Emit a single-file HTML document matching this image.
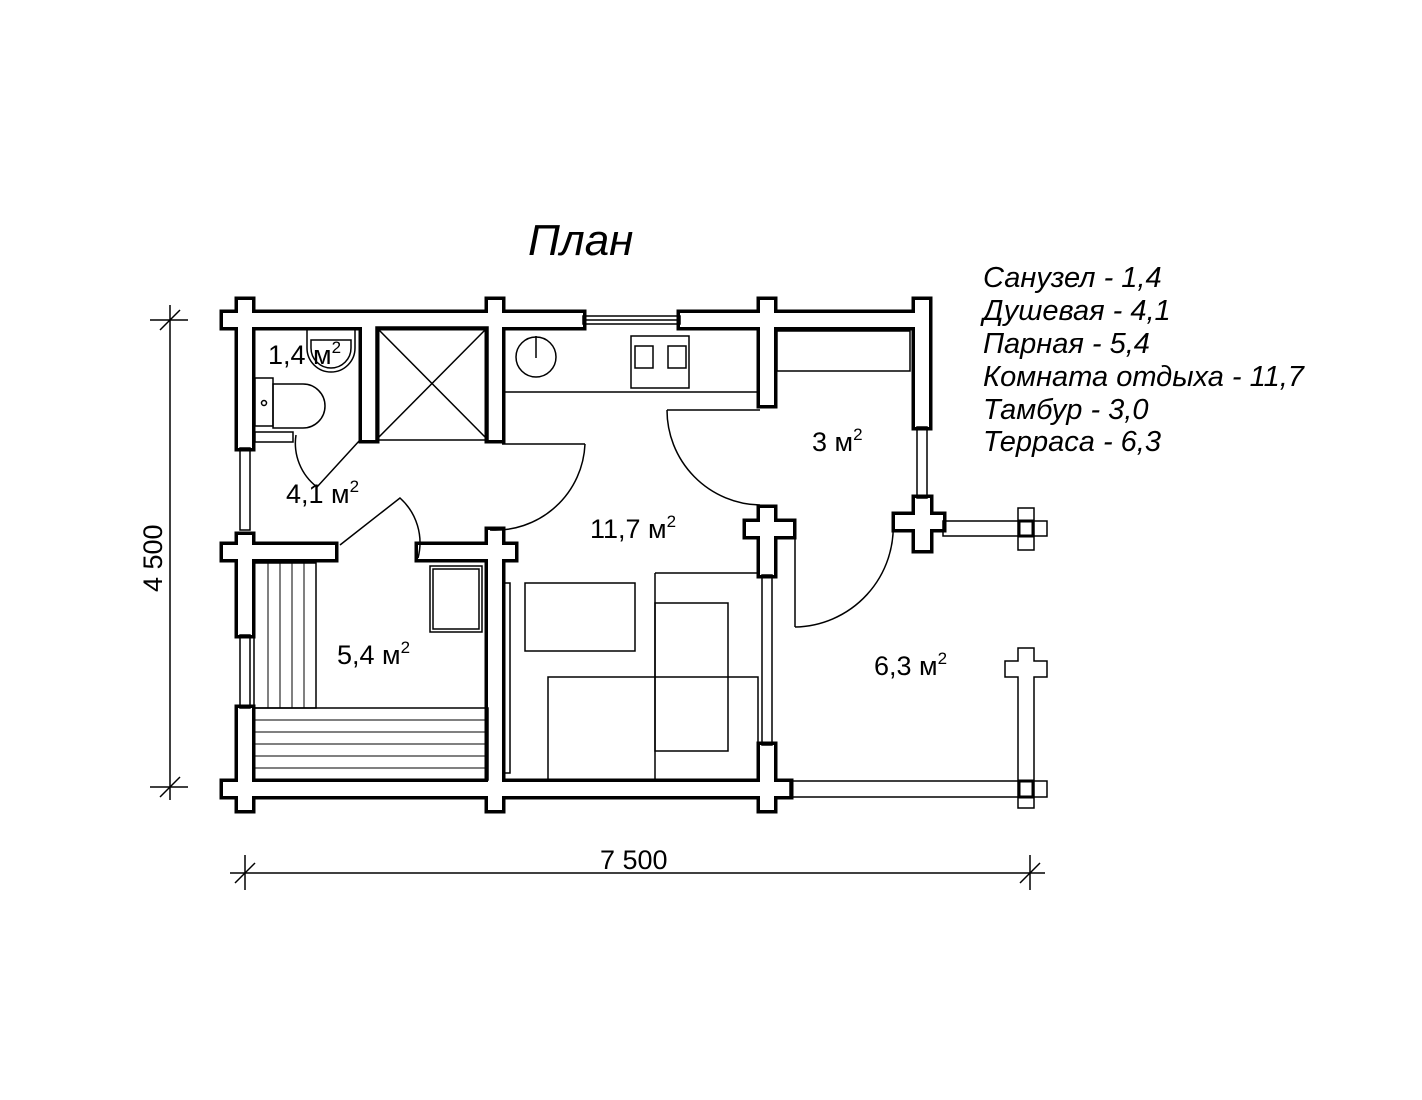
<!DOCTYPE html>
<html><head><meta charset="utf-8"><style>
html,body{margin:0;padding:0;background:#fff;}
svg{display:block}
text{font-family:"Liberation Sans",sans-serif;fill:#000}
</style></head><body>
<svg width="1422" height="1100" viewBox="0 0 1422 1100" xmlns="http://www.w3.org/2000/svg">
<defs>
<g id="walls">
 <rect x="223" y="313" width="360" height="14"/>
 <rect x="680" y="313" width="249" height="14"/>
 <rect x="238" y="300" width="14" height="148"/>
 <rect x="488" y="300" width="14" height="140"/>
 <rect x="760" y="300" width="14" height="105"/>
 <rect x="915" y="300" width="14" height="127"/>
 <rect x="362" y="327" width="14" height="113"/>
 <rect x="238" y="535" width="14" height="100"/>
 <rect x="223" y="545" width="112" height="14"/>
 <rect x="418" y="545" width="97" height="14"/>
 <rect x="488" y="530" width="14" height="280"/>
 <rect x="238" y="708" width="14" height="102"/>
 <rect x="223" y="782" width="567" height="14"/>
 <rect x="760" y="508" width="14" height="67"/>
 <rect x="746" y="522" width="47" height="14"/>
 <rect x="760" y="745" width="14" height="65"/>
 <rect x="915" y="498" width="15" height="52"/>
 <rect x="895" y="515" width="48" height="14"/>
</g>
</defs>
<g stroke="#000" stroke-width="7" fill="#000"><use href="#walls"/></g>
<g fill="#fff"><use href="#walls"/></g>

<g fill="none" stroke="#000" stroke-width="1.5">
 <rect x="583" y="316" width="97" height="8"/><line x1="583" y1="320" x2="680" y2="320"/>
 <rect x="240" y="448" width="10" height="82"/>
 <rect x="240" y="635" width="10" height="73"/>
 <rect x="917" y="427" width="10" height="71"/>
 <rect x="762" y="575" width="10" height="170"/>
 <rect x="943" y="521" width="104" height="15"/>
 <rect x="790" y="781" width="257" height="16"/>
 <rect x="1018" y="508" width="16" height="42"/>
 <path d="M1018 648 h16 v13 h13 v16 h-13 v131 h-16 v-131 h-13 v-16 h13 z" fill="#fff"/>
 <line x1="502" y1="444" x2="585" y2="444"/>
 <path d="M585 444 A 90 90 0 0 1 490 530"/>
 <path d="M296 435 A 55 55 0 0 0 317 487 L360 440"/>
 <path d="M340 545 L400 498 A 60 60 0 0 1 418 558"/>
 <line x1="667" y1="410" x2="760" y2="410"/>
 <path d="M667 410 A 95 95 0 0 0 760 505"/>
 <line x1="795" y1="520" x2="795" y2="627"/>
 <path d="M795 627 A 100 100 0 0 0 893 520"/>
 <rect x="376" y="327" width="112" height="113"/>
 <line x1="376" y1="327" x2="488" y2="440"/><line x1="488" y1="327" x2="376" y2="440"/>
 <path d="M307 330 v18 a24 24 0 0 0 48 0 v-18"/>
 <path d="M311 340 h40 v8 a20 20 0 0 1 -40 0 z"/>
 <rect x="255" y="378" width="18" height="48"/>
 <path d="M273 384 h30 a22 22 0 0 1 0 44 h-30 z"/>
 <circle cx="264" cy="403" r="2.5"/>
 <rect x="255" y="432" width="38" height="10"/>
 <line x1="502" y1="392" x2="760" y2="392"/>
 <circle cx="536" cy="357" r="20"/><line x1="536" y1="336" x2="536" y2="358"/>
 <rect x="631" y="336" width="58" height="52"/>
 <rect x="635" y="346" width="18" height="22"/><rect x="668" y="346" width="18" height="22"/>
 <rect x="777" y="331" width="133" height="40"/>
 <rect x="430" y="566" width="52" height="66"/><rect x="433" y="569" width="46" height="60"/>
 <rect x="254" y="563" width="62" height="145"/>
 <rect x="254" y="708" width="234" height="72"/>
 <rect x="525" y="583" width="110" height="68"/>
 <rect x="655" y="603" width="73" height="148"/>
 <rect x="548" y="677" width="210" height="103"/>
 <line x1="655" y1="573" x2="760" y2="573"/>
 <line x1="655" y1="573" x2="655" y2="780"/>
 <rect x="504" y="583" width="6" height="190"/>
 <line x1="170" y1="305" x2="170" y2="800"/>
 <line x1="150" y1="320" x2="188" y2="320"/><line x1="160" y1="330" x2="180" y2="310"/>
 <line x1="150" y1="787" x2="188" y2="787"/><line x1="160" y1="797" x2="180" y2="777"/>
 <line x1="230" y1="873" x2="1045" y2="873"/>
 <line x1="245" y1="855" x2="245" y2="890"/><line x1="235" y1="883" x2="255" y2="863"/>
 <line x1="1030" y1="855" x2="1030" y2="890"/><line x1="1020" y1="883" x2="1040" y2="863"/>
</g>
<g stroke="#000" stroke-width="1">
 <line x1="268" y1="563" x2="268" y2="708"/><line x1="280" y1="563" x2="280" y2="708"/><line x1="292" y1="563" x2="292" y2="708"/><line x1="304" y1="563" x2="304" y2="708"/>
 <line x1="254" y1="720" x2="488" y2="720"/><line x1="254" y1="732" x2="488" y2="732"/><line x1="254" y1="744" x2="488" y2="744"/><line x1="254" y1="756" x2="488" y2="756"/><line x1="254" y1="768" x2="488" y2="768"/>
</g>
<rect x="1019" y="521" width="14" height="15" fill="none" stroke="#000" stroke-width="3"/>
<rect x="1019" y="781" width="14" height="16" fill="none" stroke="#000" stroke-width="3"/>

<text x="528" y="255" font-size="44" font-style="italic">План</text>
<g font-size="29" font-style="italic">
<text x="983" y="287">Санузел - 1,4</text>
<text x="983" y="320">Душевая - 4,1</text>
<text x="983" y="353">Парная - 5,4</text>
<text x="983" y="386">Комната отдыха - 11,7</text>
<text x="983" y="419">Тамбур - 3,0</text>
<text x="983" y="451">Терраса - 6,3</text>
</g>
<g font-size="27">
<text x="268" y="364">1,4 м<tspan font-size="17" dy="-11">2</tspan></text>
<text x="286" y="503">4,1 м<tspan font-size="17" dy="-11">2</tspan></text>
<text x="337" y="664">5,4 м<tspan font-size="17" dy="-11">2</tspan></text>
<text x="590" y="538">11,7 м<tspan font-size="17" dy="-11">2</tspan></text>
<text x="812" y="451">3 м<tspan font-size="17" dy="-11">2</tspan></text>
<text x="874" y="675">6,3 м<tspan font-size="17" dy="-11">2</tspan></text>
<text x="600" y="869">7 500</text>
<text x="0" y="0" transform="translate(162 592) rotate(-90)">4 500</text>
</g>
</svg>
</body></html>
